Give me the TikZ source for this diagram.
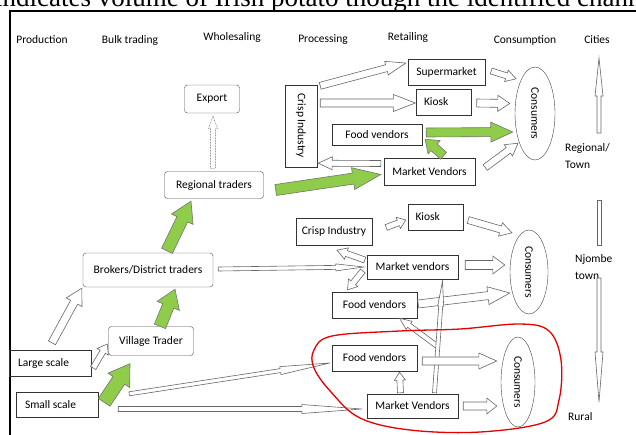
\documentclass[tikz,border=0pt]{standalone}
\usepackage{graphicx}
\usepackage{fontspec}
\setmainfont{Carlito}
\newfontfamily\titlefont{Liberation Serif}
\usetikzlibrary{calc,shapes.geometric}

\definecolor{leafgreen}{RGB}{143,204,74}
\definecolor{ringred}{RGB}{228,0,0}

\tikzset{
  stage/.style={font=\fontsize{11.5}{17}\selectfont, inner sep=0pt, align=left},
  roundbox/.style={draw=black!70, rounded corners=3pt, inner sep=0pt, font=\fontsize{11.5}{13}\selectfont},
  flatbox/.style={draw=black!80, inner sep=0pt, font=\fontsize{11.5}{13}\selectfont},
  crowd/.style={draw=black!75, ellipse, inner sep=0pt, font=\fontsize{11.5}{13}\selectfont},
  hollow/.style={draw=black!60, fill=white, line width=0.6pt},
  mainflow/.style={draw=black!55, fill=leafgreen, line width=0.6pt}
}

% block arrow: [style]{from}{to}{half shaft}{half head}{head length}
\newcommand{\chainarrow}[6][hollow]{%
  \coordinate (fa) at (#2);
  \coordinate (fb) at (#3);
  \coordinate (fh) at ($(fb)!#6pt!(fa)$);
  \draw[#1] ($(fa)!#4pt!90:(fb)$) -- ($(fh)!#4pt!-90:(fa)$) -- ($(fh)!#5pt!-90:(fa)$)
    -- (fb) -- ($(fh)!#5pt!90:(fa)$) -- ($(fh)!#4pt!90:(fa)$) -- ($(fa)!#4pt!-90:(fb)$) -- cycle;
}

\begin{document}
\begin{tikzpicture}[x=1pt,y=-1pt]
    \useasboundingbox (0,0) rectangle (636,434);
    \clip (0,0) rectangle (636,434);

    \node[anchor=base west, inner sep=0pt, font=\titlefont\fontsize{27}{30}\selectfont] (title) at (-5,6) {indicates volume of Irish potato though the identified channels};
    \draw[line width=2pt] (9.5,440) -- (9.5,10.5) -- (640,10.5);

    \node[stage] (hprod) at (42,40) {Production};
    \node[stage] (hbulk) at (130,40) {Bulk trading};
    \node[stage] (hwhole) at (232,37) {Wholesaling};
    \node[stage] (hproc) at (323,40) {Processing};
    \node[stage] (hretail) at (408,37) {Retailing};
    \node[stage] (hcons) at (525,40) {Consumption};
    \node[stage] (hcity) at (597,40) {Cities};

    \node[stage, anchor=west] (lreg) at (565,156.5) {Regional/\\Town};
    \node[stage, anchor=west] (lnjo) at (575,267) {Njombe\\town};
    \node[stage, anchor=west] (lrur) at (568,417) {Rural};

    \node[roundbox, minimum width=55pt, minimum height=28pt] (export) at (212,99) {Export};
    \node[roundbox, minimum width=99pt, minimum height=27pt] (regional) at (214,185) {Regional traders};
    \node[roundbox, minimum width=130pt, minimum height=34pt] (brokers) at (148,270) {Brokers/District traders};
    \node[roundbox, minimum width=85pt, minimum height=29pt] (village) at (151,341) {Village Trader};
    \node[flatbox, minimum width=82pt, minimum height=26pt] (large) at (50,363) {\makebox[64pt][l]{Large scale}};
    \node[flatbox, minimum width=82pt, minimum height=25pt] (small) at (57,405) {\makebox[64pt][l]{Small scale}};

    \node[flatbox, minimum width=32pt, minimum height=82pt] (crispT) at (301,126) {\rotatebox{-90}{Crisp Industry}};
    \node[flatbox, minimum width=77pt, minimum height=26pt] (superT) at (446.5,72) {Supermarket};
    \node[flatbox, minimum width=55pt, minimum height=26pt] (kioskT) at (444,102) {\makebox[40pt][l]{Kiosk}};
    \node[flatbox, minimum width=90pt, minimum height=21pt] (foodT) at (377,134.5) {Food vendors};
    \node[flatbox, minimum width=91pt, minimum height=27pt] (marketT) at (429.5,171.5) {Market Vendors};
    \node[crowd, minimum width=40pt, minimum height=93pt] (consT) at (535,113.5) {\rotatebox{-90}{Consumers}};

    \node[flatbox, minimum width=76pt, minimum height=27pt] (crispM) at (334,231.5) {Crisp Industry};
    \node[flatbox, minimum width=55pt, minimum height=26pt] (kioskM) at (435.5,217) {\makebox[40pt][l]{Kiosk}};
    \node[flatbox, minimum width=91pt, minimum height=24pt] (marketM) at (412.5,267) {Market vendors};
    \node[flatbox, minimum width=85pt, minimum height=26pt] (foodM) at (374.5,305) {Food vendors};
    \node[crowd, minimum width=38pt, minimum height=84pt] (consM) at (529,272) {\rotatebox{-90}{Consumers}};

    \node[flatbox, minimum width=85pt, minimum height=26pt] (foodR) at (374.5,358) {Food vendors};
    \node[flatbox, minimum width=91pt, minimum height=24pt] (marketR) at (412.5,406) {Market Vendors};
    \node[crowd, minimum width=34pt, minimum height=90pt] (consR) at (518,382) {\rotatebox{-90}{Consumers}};

    \chainarrow[mainflow]{[shift={(6,10)}]small.north east}{[shift={(-21,8)}]village.south}{7}{13}{20}
    \chainarrow[mainflow]{[shift={(9,0)}]village.north}{[shift={(27,2)}]brokers.south}{6}{12}{18}
    \chainarrow[mainflow]{[shift={(19,-2)}]brokers.north}{[shift={(-23,2.5)}]regional.south}{6}{12}{20}
    \chainarrow[mainflow]{[shift={(12,5)}]regional.east}{[shift={(-3,3)}]marketT.west}{5.5}{11}{28}
    \chainarrow[mainflow]{[shift={(14,-2)}]marketT.north}{[shift={(3,-6)}]foodT.south east}{4.5}{9}{12}
    \chainarrow[mainflow]{[shift={(4,-2)}]foodT.east}{[shift={(-2,18.5)}]consT.west}{4.5}{10}{22}

    \chainarrow{[shift={(2,-7)}]large.north}{[shift={(-1,1)}]brokers.south west}{4}{9}{16}
    \chainarrow{[shift={(2,5)}]large.east}{[shift={(-1,3)}]village.west}{3}{6.5}{9}
    \chainarrow[hollow, densely dotted]{[shift={(-1,-3)}]regional.north}{[shift={(1,3)}]export.south}{2.5}{4.5}{12}

    \chainarrow{[shift={(3,1)}]crispT.north east}{[shift={(-2,-9)}]superT.west}{3.5}{7}{20}
    \chainarrow{[shift={(3,-23)}]crispT.east}{[shift={(-1,1)}]kioskT.west}{4}{8.5}{22}
    \chainarrow{[shift={(-3,-8)}]marketT.west}{[shift={(1,-4)}]crispT.south east}{3}{6.5}{14}
    \chainarrow{[shift={(6,-1)}]superT.east}{[shift={(-19,12)}]consT.north}{3}{6}{10}
    \chainarrow{[shift={(5,1)}]kioskT.east}{[shift={(-5,-10)}]consT.west}{4}{8}{12}
    \chainarrow{[shift={(10,-4)}]marketT.east}{[shift={(-17,-17)}]consT.south}{3.5}{7}{12}

    \chainarrow{[shift={(5,-1)}]brokers.east}{[shift={(-3,0)}]marketM.west}{2}{3.5}{28}
    \chainarrow{[shift={(14,-4)}]crispM.east}{[shift={(-2,3)}]kioskM.west}{3}{6}{8}
    \chainarrow{[shift={(5,3)}]kioskM.east}{[shift={(-17,3)}]consM.north}{3.5}{7}{12}
    \chainarrow{[shift={(-2,-7)}]marketM.west}{[shift={(3,5)}]crispM.south}{3}{6}{10}
    \chainarrow{[shift={(-4,4)}]marketM.west}{[shift={(-27,-2)}]foodM.north}{3}{6}{9}
    \chainarrow{[shift={(7,-2)}]marketM.east}{[shift={(-5,-7)}]consM.west}{4.5}{9}{12}
    \chainarrow{[shift={(1,-1)}]foodM.east}{[shift={(0,21)}]consM.west}{4}{9}{22}

    \coordinate (fork) at (437,346);
    \chainarrow{fork}{[shift={(25,0)}]foodM.south}{2.5}{5}{12}
    \chainarrow{[shift={(22,-1)}]marketR.north}{[shift={(30,2)}]marketM.south}{2}{3}{25}

    \chainarrow{[shift={(-12,-1)}]marketR.north}{[shift={(25,1)}]foodR.south}{3}{5.5}{8}
    \chainarrow{[shift={(5,3)}]foodR.east}{[shift={(-4,-21)}]consR.west}{4}{8}{18}
    \chainarrow{[shift={(5,0)}]marketR.east}{[shift={(-4,24)}]consR.west}{4}{8}{10}
    \chainarrow{[shift={(31,1.5)}]small.north east}{[shift={(-2,5)}]foodR.west}{2}{4}{50}
    \chainarrow{[shift={(20,4)}]small.east}{[shift={(-5,3)}]marketR.west}{2.5}{4.5}{60}

    \chainarrow{599,133}{599,58}{2}{4}{38}
    \draw[hollow] (597,200) rectangle (601,245);
    \chainarrow{599,278}{599,402}{2}{4}{50}

    \draw[ringred, line width=1.3pt] plot[smooth cycle, tension=0.6] coordinates {(314,350) (332,336) (400,331) (460,329) (520,324) (549,331) (561,360) (559,400) (545,422) (480,432) (410,430) (360,418) (331,392) (314,368)};

\end{tikzpicture}
\end{document}
